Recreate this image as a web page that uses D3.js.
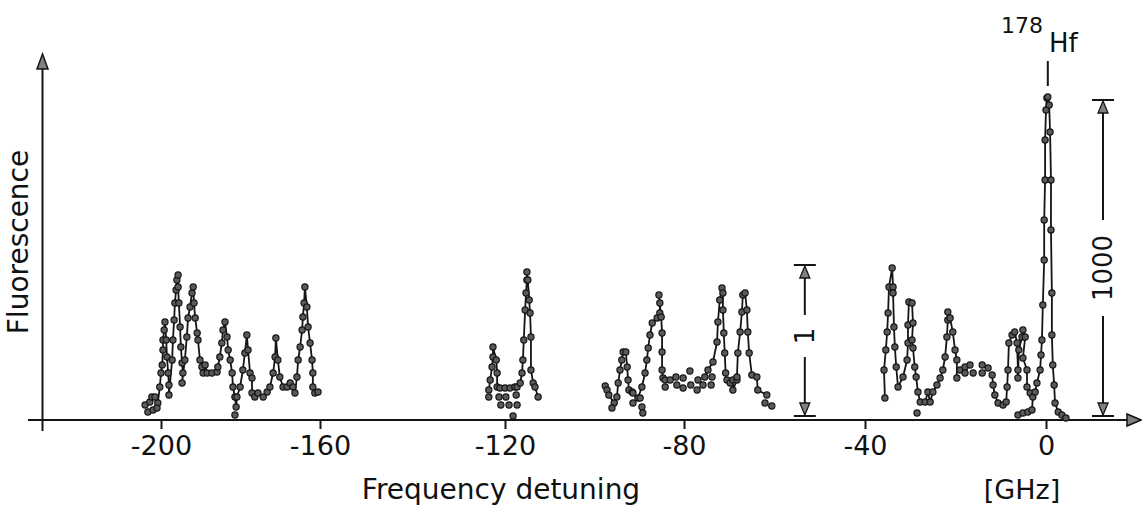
<!DOCTYPE html>
<html>
<head>
<meta charset="utf-8">
<script src="https://cdn.jsdelivr.net/npm/d3@7"></script>
<style>
body { margin: 0; background: #fff; }
svg text { font-family: "DejaVu Sans", sans-serif; fill: #111; }
</style>
</head>
<body>
<script>
// tick positions on the detuning axis [GHz]
const tickValues = [-200, -160, -120, -80, -40, 0];
const tickLabels = ["-200", "-160", "-120", "-80", "-40", "0"];

// measured traces, [detuning GHz, fluorescence arb.]
const traceA = [[-200.8,17],[-200.3,33],[-200.0,47],[-199.7,55],[-199.5,70],[-199.5,80],[-199.2,90],[-199.0,98],[-198.7,80],[-198.5,63],[-198.2,47],[-198.0,35],[-198.0,25],[-197.2,60],[-197.0,80],[-196.7,100],[-196.5,117],[-196.2,130],[-196.0,140],[-195.7,145],[-195.7,133],[-195.5,117],[-195.2,93],[-195.0,73],[-194.7,57],[-194.5,47],[-194.7,37],[-194.0,60],[-193.5,83],[-193.2,102],[-192.7,113],[-192.2,127],[-191.9,133],[-191.7,117],[-191.4,102],[-190.9,87],[-190.7,80],[-190.2,60],[-189.7,53],[-189.4,47],[-188.9,55],[-188.4,47],[-187.2,47],[-185.9,48],[-185.7,53],[-185.2,63],[-184.7,77],[-184.4,90],[-183.9,98],[-183.4,83],[-183.1,70],[-182.6,60],[-182.1,47],[-181.9,33],[-181.4,23],[-181.1,13],[-180.9,23],[-180.1,33],[-179.4,50],[-178.9,67],[-178.4,85],[-178.1,70],[-177.6,47],[-177.1,42],[-177.1,27],[-176.4,23],[-175.6,27],[-174.3,23],[-173.3,28],[-172.6,33],[-171.8,47],[-171.3,63],[-171.1,82],[-170.6,60],[-170.1,43],[-169.3,33],[-168.3,33],[-167.5,37],[-166.8,33],[-166.3,27],[-165.8,43],[-165.5,60],[-165.0,73],[-164.5,90],[-164.3,103],[-164.0,117],[-163.8,133],[-163.3,113],[-163.0,93],[-162.5,77],[-162.0,60],[-161.8,47],[-161.8,33],[-161.3,27],[-160.5,28]];
const traceB = [[-123.5,30],[-123.2,40],[-122.8,53],[-122.6,63],[-122.6,73],[-121.9,60],[-121.7,47],[-121.7,33],[-121.1,32],[-120.0,32],[-118.9,32],[-117.8,33],[-117.3,33],[-116.6,37],[-116.2,47],[-116.0,60],[-115.8,80],[-115.5,110],[-115.3,127],[-115.1,140],[-115.1,148],[-114.9,140],[-114.6,120],[-114.4,107],[-114.2,83],[-114.2,50],[-113.7,37],[-113.3,33],[-112.6,23]];
const traceC1 = [[-97.6,34],[-97.2,30],[-96.8,25],[-95.6,17],[-95.0,23],[-94.7,37],[-94.3,50],[-93.9,60],[-93.6,68],[-93.0,68],[-92.7,53],[-92.5,40],[-92.3,30],[-91.6,28],[-91.4,27]];
const traceC2 = [[-90.3,22],[-89.4,33],[-88.7,47],[-88.3,60],[-88.0,72],[-87.6,85],[-87.1,97],[-86.0,102],[-85.4,107],[-85.4,117],[-85.6,125],[-85.1,103],[-84.9,87],[-84.9,68],[-84.9,50],[-84.7,42],[-84.2,40],[-83.1,40]];
const traceC3 = [[-75.4,43],[-74.7,50],[-73.6,58],[-72.7,78],[-72.5,98],[-72.1,120],[-71.6,132],[-71.4,127],[-71.4,110],[-71.2,87],[-71.0,67],[-70.8,47],[-70.5,40],[-69.8,37],[-69.2,40],[-69.2,30],[-68.3,40],[-68.3,43],[-68.1,67],[-67.6,88],[-67.2,108],[-67.0,125],[-66.5,127],[-66.1,110],[-65.9,88],[-65.6,67],[-65.0,45],[-63.9,43],[-63.7,30],[-61.7,25]];
const traceD1 = [[-35.6,22],[-35.8,50],[-35.4,70],[-35.1,88],[-34.9,107],[-34.7,133],[-34.0,152],[-33.8,133],[-33.8,127],[-33.6,93],[-33.4,73],[-33.1,53],[-32.7,33],[-31.6,43],[-30.7,60],[-30.5,77],[-30.5,95],[-30.3,118],[-29.6,117],[-29.4,97],[-29.6,80],[-29.4,72],[-29.0,53],[-28.7,43],[-28.3,28],[-27.8,18],[-26.7,18],[-26.1,28],[-25.6,18],[-25.0,28],[-24.1,35],[-23.4,42],[-22.8,50],[-22.3,63],[-21.9,83],[-21.7,100],[-21.7,108],[-21.2,102],[-20.6,88],[-20.1,70],[-19.7,60],[-19.7,42]];
const traceD2 = [[-11.9,45],[-11.7,35],[-11.3,25],[-10.6,17],[-9.5,15],[-8.8,18],[-8.6,33],[-8.4,50],[-8.2,77],[-7.5,85],[-6.9,88],[-6.4,77],[-6.2,50],[-6.2,42],[-6.0,70],[-5.3,83],[-5.1,90],[-4.6,83],[-5.1,62],[-4.2,50],[-4.2,33],[-3.5,27]];
const traceHf = [[-6.2,5],[-5.1,7],[-4.0,8],[-3.1,10],[-2.9,23],[-2.4,28],[-2.0,37],[-1.3,50],[-1.1,65],[-0.9,80],[-0.7,115],[-0.4,160],[-0.4,200],[-0.2,240],[-0.2,280],[0.0,310],[0.2,322],[0.4,323],[0.7,315],[0.9,288],[1.1,240],[1.1,190],[1.3,127],[1.3,85],[1.5,55],[1.8,35],[2.0,17],[2.7,8],[3.5,5],[4.4,2]];

// single points not joined by the trace
const looseA = [[-204.0,15],[-203.3,8],[-202.8,18],[-202.3,23],[-202.0,10],[-201.5,23],[-201.0,12],[-181.4,5]];
const looseB = [[-123.5,23],[-121.3,23],[-120.9,15],[-119.8,23],[-119.1,15],[-118.2,4],[-117.5,25],[-117.3,15]];
const looseC = [[-96.1,12],[-91.4,17],[-89.8,22],[-89.4,13],[-89.2,7],[-84.2,33],[-81.8,43],[-81.6,35],[-80.2,42],[-80.2,32],[-78.7,49],[-78.5,35],[-77.1,30],[-76.9,40],[-75.8,35],[-74.0,35],[-73.8,43],[-62.1,17],[-60.6,14]];
const looseD = [[-28.5,7],[-19.0,50],[-17.9,53],[-17.9,47],[-16.8,55],[-16.1,47],[-14.1,55],[-14.1,47],[-12.8,52]];

// scale bars: position [GHz], height, label (x1 and x1000)
const barPositions = [-53.3, 12.6];
const barHeights = [155, 320];
const barLabels = ["1", "1000"];

const hfPosition = 0.4;

const width = 1142, height = 508;

const svg = d3.select("body").append("svg")
    .attr("width", width)
    .attr("height", height);

// the original axis is not quite linear, so follow its tick marks
var x = d3.scaleLinear()
    .domain(tickValues)
    .range([161, 320, 505, 684, 865, 1046]);

var y = d3.scaleLinear()
    .domain([0, 360])
    .range([420, 60]);

var ink = "#151515";
var grey = "#808080";

// axes
svg.append("line")
    .attr("x1", 28).attr("x2", 1130)
    .attr("y1", y(0)).attr("y2", y(0))
    .attr("stroke", ink).attr("stroke-width", 2);
svg.append("path")
    .attr("d", "M1141," + y(0) + " L1127," + (y(0) - 6) + " L1127," + (y(0) + 6) + " Z")
    .attr("fill", grey).attr("stroke", ink).attr("stroke-width", 1.5);

svg.append("line")
    .attr("x1", 42.5).attr("x2", 42.5)
    .attr("y1", 431).attr("y2", 66)
    .attr("stroke", ink).attr("stroke-width", 2);
svg.append("path")
    .attr("d", "M42.5,54 L37,69 L48,69 Z")
    .attr("fill", grey).attr("stroke", ink).attr("stroke-width", 1.5);

var xAxis = d3.axisBottom(x)
    .tickValues(tickValues)
    .tickFormat(function(d, i) { return tickLabels[i]; })
    .tickSize(9)
    .tickPadding(7);

var gx = svg.append("g")
    .attr("transform", "translate(0," + y(0) + ")")
    .call(xAxis);
gx.select(".domain").remove();
gx.selectAll(".tick line").attr("stroke", ink).attr("stroke-width", 2);
gx.selectAll(".tick text")
    .attr("font-size", 27)
    .attr("fill", ink)
    .style("font-family", '"DejaVu Sans", sans-serif');

// axis titles
svg.append("text")
    .attr("x", 501).attr("y", 499)
    .attr("text-anchor", "middle")
    .attr("font-size", 28)
    .text("Frequency detuning");

svg.append("text")
    .attr("x", 1022).attr("y", 499)
    .attr("text-anchor", "middle")
    .attr("font-size", 27)
    .text("[GHz]");

svg.append("text")
    .attr("transform", "translate(28,242) rotate(-90)")
    .attr("text-anchor", "middle")
    .attr("font-size", 28)
    .text("Fluorescence");

// data
var line = d3.line()
    .x(d => x(d[0]))
    .y(d => y(d[1]));

var traces = [traceA, traceB, traceC1, traceC2, traceC3, traceD1, traceD2, traceHf];
var loose = [].concat(looseA, looseB, looseC, looseD);

svg.selectAll("path.trace")
    .data(traces)
    .enter().append("path")
    .attr("class", "trace")
    .attr("d", line)
    .attr("fill", "none")
    .attr("stroke", ink)
    .attr("stroke-width", 1.8)
    .attr("stroke-linejoin", "round");

var allPoints = [].concat.apply([], traces).concat(loose);

svg.selectAll("circle.pt")
    .data(allPoints)
    .enter().append("circle")
    .attr("class", "pt")
    .attr("cx", d => x(d[0]))
    .attr("cy", d => y(d[1]))
    .attr("r", 3.1)
    .attr("fill", "#5a5a5a")
    .attr("stroke", ink)
    .attr("stroke-width", 1.2);

// scale bars
barPositions.forEach(function(pos, i) {
    var bx = x(pos);
    var top = y(barHeights[i]);
    var bottom = y(0) - 4;
    var mid = i == 0 ? 336 : 268;
    var gap = barLabels[i].length * 9 + 12;
    var g = svg.append("g").attr("stroke", ink).attr("stroke-width", 2);

    g.append("line").attr("x1", bx - 11).attr("x2", bx + 11).attr("y1", top).attr("y2", top);
    g.append("line").attr("x1", bx - 11).attr("x2", bx + 11).attr("y1", bottom).attr("y2", bottom);
    g.append("line").attr("x1", bx).attr("x2", bx).attr("y1", top + 12).attr("y2", mid - gap);
    g.append("line").attr("x1", bx).attr("x2", bx).attr("y1", mid + gap).attr("y2", bottom - 12);
    g.append("path")
        .attr("d", "M" + bx + "," + (top + 1) + " L" + (bx - 5) + "," + (top + 13) + " L" + (bx + 5) + "," + (top + 13) + " Z")
        .attr("fill", grey).attr("stroke-width", 1.3);
    g.append("path")
        .attr("d", "M" + bx + "," + (bottom - 1) + " L" + (bx - 5) + "," + (bottom - 13) + " L" + (bx + 5) + "," + (bottom - 13) + " Z")
        .attr("fill", grey).attr("stroke-width", 1.3);

    svg.append("text")
        .attr("transform", "translate(" + (bx + 9) + "," + mid + ") rotate(-90)")
        .attr("text-anchor", "middle")
        .attr("font-size", 26)
        .text(barLabels[i]);
});

// isotope label
var hx = x(hfPosition);
svg.append("line")
    .attr("x1", hx).attr("x2", hx)
    .attr("y1", 61).attr("y2", 86)
    .attr("stroke", ink).attr("stroke-width", 2);
svg.append("text")
    .attr("x", 1043).attr("y", 33)
    .attr("text-anchor", "end")
    .attr("font-size", 22)
    .text("178");
svg.append("text")
    .attr("x", 1049).attr("y", 52)
    .attr("font-size", 26)
    .text("Hf");
</script>
</body>
</html>
